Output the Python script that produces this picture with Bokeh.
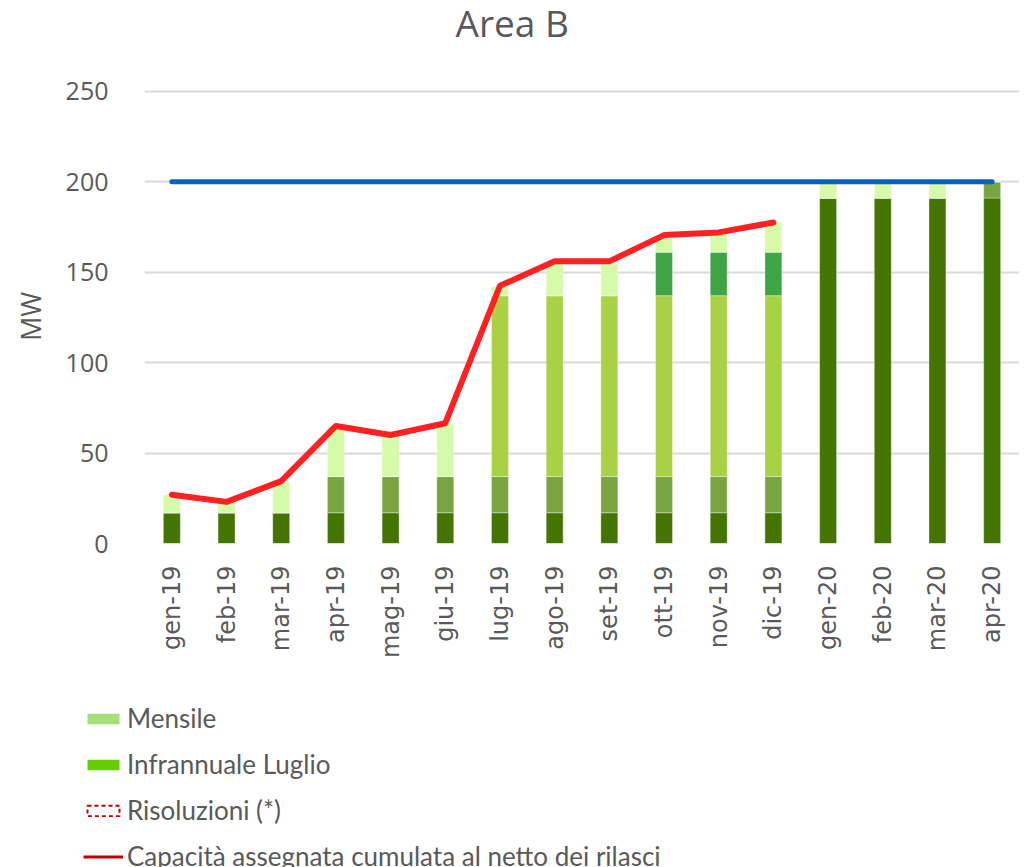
import math

from bokeh.embed import file_html
from bokeh.layouts import column
from bokeh.models import (ColumnDataSource, FactorRange, FixedTicker, Label,
                          Legend, LegendItem, Range1d)
from bokeh.plotting import figure
from bokeh.resources import INLINE

# --- data -------------------------------------------------------------
mesi = ["gen-19", "feb-19", "mar-19", "apr-19", "mag-19", "giu-19",
        "lug-19", "ago-19", "set-19", "ott-19", "nov-19", "dic-19",
        "gen-20", "feb-20", "mar-20", "apr-20"]

annuale = [17, 17, 17, 17, 17, 17, 17, 17, 17, 17, 17, 17, 191, 191, 191, 191]
infrannuale_aprile = [0, 0, 0, 20, 20, 20, 20, 20, 20, 20, 20, 20, 0, 0, 0, 9]
infrannuale_luglio = [0, 0, 0, 0, 0, 0, 100, 100, 100, 100, 100, 100, 0, 0, 0, 0]
infrannuale_ottobre = [0, 0, 0, 0, 0, 0, 0, 0, 0, 24, 24, 24, 0, 0, 0, 0]
mensile = [10, 6, 17, 28, 23, 29, 5, 18, 18, 8, 10, 16.5, 9, 9, 9, 0]

mesi_capacita = mesi[:12]
capacita_netta = [27, 23, 34.5, 65, 60, 66.5, 142.5, 156, 156, 170.5, 172, 177.5]

limite = [200] * len(mesi)

y_ticks = [0, 50, 100, 150, 200, 250]

serie = ["annuale", "infrannuale_aprile", "infrannuale_luglio",
         "infrannuale_ottobre", "mensile"]
colori = ["#437500", "#78a540", "#a9d145", "#3da543", "#d5fba8"]

TEXT = "#595959"
TITLE_H = 70
LEGEND_H = 181

source = ColumnDataSource(dict(
    mesi=mesi,
    annuale=annuale,
    infrannuale_aprile=infrannuale_aprile,
    infrannuale_luglio=infrannuale_luglio,
    infrannuale_ottobre=infrannuale_ottobre,
    mensile=mensile,
))


def blank_panel(height):
    """A frameless, axis-free strip; its data units are plain pixels."""
    f = figure(
        width=1026, height=height,
        x_range=Range1d(0, 1026), y_range=Range1d(0, height),
        x_axis_type=None, y_axis_type=None,
        output_backend="svg", toolbar_location=None,
        min_border=0,
    )
    f.outline_line_color = None
    f.grid.grid_line_color = None
    f.frame_align = False
    return f


# --- heading ----------------------------------------------------------
tp = blank_panel(TITLE_H)
tp.add_layout(Label(
    x=455, y=48,
    text="Area B", text_font="Open Sans", text_font_size="37px",
    text_color=TEXT, text_baseline="alphabetic", text_align="left",
))

# --- main chart -------------------------------------------------------
p = figure(
    width=1026, height=867 - TITLE_H - LEGEND_H,
    x_range=FactorRange(*mesi, range_padding=0),
    y_range=Range1d(0, 251),
    output_backend="svg", toolbar_location=None,
    min_border_left=144, min_border_right=7,
    min_border_top=89 - TITLE_H, min_border_bottom=143,
)
p.frame_align = False
p.outline_line_color = None
p.background_fill_color = "white"

p.vbar_stack(serie, x="mesi", width=0.31, source=source, color=colori,
             line_color="white", line_alpha=0.35, line_width=1)

p.line(mesi, limite, line_color="#0563c1", line_width=5, line_cap="round")
p.line(mesi_capacita, capacita_netta, line_color="#ff2121", line_width=6,
       line_join="round", line_cap="round")

p.xgrid.grid_line_color = None
p.ygrid.grid_line_color = "#d9d9d9"
p.ygrid.grid_line_width = 2

p.yaxis.ticker = FixedTicker(ticks=y_ticks)
p.yaxis.axis_line_color = None
p.yaxis.major_tick_line_color = None
p.yaxis.minor_tick_line_color = None
p.yaxis.major_label_text_font = "Open Sans"
p.yaxis.major_label_text_font_size = "25px"
p.yaxis.major_label_text_color = TEXT
p.yaxis.major_label_standoff = 30
p.yaxis.axis_label = "MW"
p.yaxis.axis_label_text_font = "Open Sans"
p.yaxis.axis_label_text_font_size = "27px"
p.yaxis.axis_label_text_font_style = "normal"
p.yaxis.axis_label_text_color = TEXT
p.yaxis.axis_label_standoff = 14

p.xaxis.axis_line_color = None
p.xaxis.major_tick_line_color = None
p.xaxis.major_label_orientation = math.pi / 2
p.xaxis.major_label_text_font = "DejaVu Sans"
p.xaxis.major_label_text_font_size = "24px"
p.xaxis.major_label_text_color = TEXT
p.xaxis.major_label_standoff = 16

# --- legend panel -----------------------------------------------------
lp = blank_panel(LEGEND_H)

# legend-only renderers: their single box/segment lies outside the visible range
fuori = dict(left=[-20], right=[-10], top=[-10], bottom=[-20])
r_mensile = lp.quad(**fuori, fill_color="#a6df78", line_color=None)
r_luglio = lp.quad(**fuori, fill_color="#66cc00", line_color=None)
r_risol = lp.quad(**fuori, fill_color=None, line_color="#c00000",
                  line_dash="4 3", line_width=2)
r_cap = lp.line(x=[-20, -10], y=[-20, -20], line_color="#c00000", line_width=3)

legend = Legend(
    items=[
        LegendItem(label="Mensile", renderers=[r_mensile]),
        LegendItem(label="Infrannuale Luglio", renderers=[r_luglio]),
        LegendItem(label="Risoluzioni (*)", renderers=[r_risol]),
        LegendItem(label="Capacità assegnata cumulata al netto dei rilasci",
                   renderers=[r_cap]),
    ],
    location=(83, -5),
    orientation="vertical",
    glyph_width=40, glyph_height=13,
    label_standoff=4,
    label_height=29,
    spacing=14,
    padding=0, margin=0,
    border_line_color=None,
    background_fill_alpha=0,
    label_text_font="Lato",
    label_text_font_size="26px",
    label_text_color=TEXT,
)
lp.add_layout(legend)

layout = column(tp, p, lp, spacing=0)

open("out.html", "w").write(file_html(layout, INLINE))
